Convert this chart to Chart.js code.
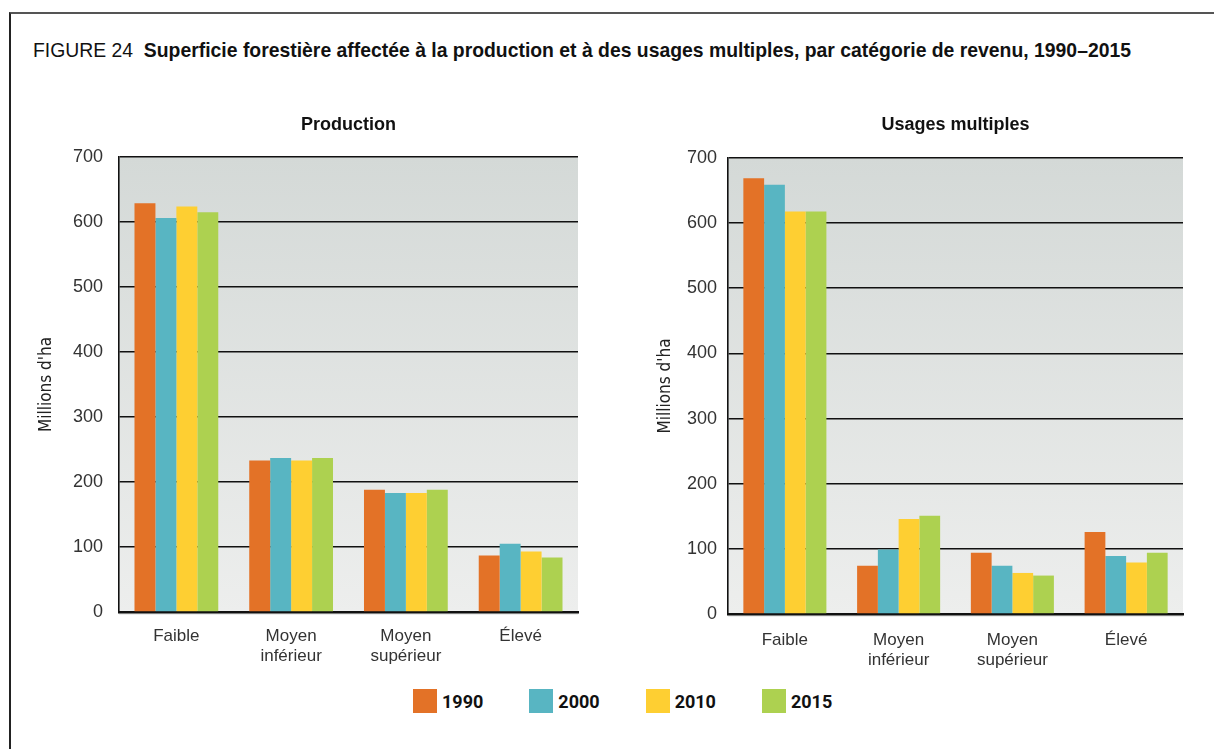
<!DOCTYPE html>
<html>
<head>
<meta charset="utf-8">
<script src="https://cdn.jsdelivr.net/npm/chart.js@4.4.1/dist/chart.umd.min.js"></script>
<style>
  body { margin: 0; background: #fff; width: 1214px; height: 749px; overflow: hidden; position: relative; }
  #frame { position: absolute; left: 9px; top: 12px; width: 1300px; height: 800px; border-left: 2px solid #222; border-top: 2px solid #555; }
  #title { position: absolute; left: 33px; top: 38px; font-family: 'Liberation Sans', Arial, sans-serif; font-size: 21px; color: #111; white-space: nowrap; transform-origin: 0 0; }
  #title b { font-weight: bold; }
  canvas { position: absolute; }
  #prodChart { left: 20px; top: 100px; }
  #multiChart { left: 640px; top: 100px; }
  #legend { position: absolute; left: 413px; top: 689px; display: flex; gap: 46px; font-family: Roboto, 'Liberation Sans', sans-serif; font-weight: bold; font-size: 18px; color: #111; }
  #legend .item { display: flex; align-items: center; }
  #legend .box { width: 24px; height: 24px; margin-right: 5px; }
</style>
</head>
<body>
<div id="frame"></div>
<div id="title">FIGURE 24&nbsp; <b>Superficie forestière affectée à la production et à des usages multiples, par catégorie de revenu, 1990–2015</b></div>
<canvas id="prodChart" width="570" height="580"></canvas>
<canvas id="multiChart" width="555" height="580"></canvas>
<div id="legend"></div>
<script>
// categories and series
const categories = ['Faible', ['Moyen', 'inférieur'], ['Moyen', 'supérieur'], 'Élevé'];
const years = ['1990', '2000', '2010', '2015'];
const colors = ['#E37227', '#58B5C2', '#FECF32', '#ADD150'];

// Production (millions ha)
const prod1990 = [629, 233, 188, 87];
const prod2000 = [606, 237, 183, 105];
const prod2010 = [624, 233, 183, 93];
const prod2015 = [615, 237, 188, 84];

// Usages multiples (millions ha)
const multi1990 = [669, 74, 94, 126];
const multi2000 = [659, 99, 74, 89];
const multi2010 = [618, 146, 63, 79];
const multi2015 = [618, 151, 59, 94];

const yMin = 0, yMax = 700, yStep = 100;

const sans = "'Liberation Sans', Arial, sans-serif";
const cond = "'DejaVu Sans Condensed', 'Liberation Sans', sans-serif";

// squeeze the figure title to the width it has in the original
const titleEl = document.getElementById('title');
titleEl.style.transform = 'scaleX(' + (1098 / titleEl.getBoundingClientRect().width) + ')';

// gradient behind the plot area
const plotBackground = {
    id: 'plotBackground',
    beforeDraw(chart) {
        const { ctx, chartArea: a } = chart;
        const g = ctx.createLinearGradient(0, a.top, 0, a.bottom);
        g.addColorStop(0, '#D4D9D7');
        g.addColorStop(1, '#EDEEED');
        ctx.save();
        ctx.fillStyle = g;
        ctx.fillRect(a.left, a.top, a.right - a.left, a.bottom - a.top + 3);
        ctx.restore();
    }
};

function makeChart(id, title, series, opts) {
    const ctx = document.getElementById(id).getContext('2d');
    return new Chart(ctx, {
        type: 'bar',
        data: {
            labels: categories,
            datasets: series.map((s, i) => ({
                label: years[i],
                data: s,
                backgroundColor: colors[i],
                categoryPercentage: 0.73,
                barPercentage: 1.0
            }))
        },
        options: {
            responsive: false,
            animation: false,
            devicePixelRatio: 1,
            layout: { padding: { left: 0, right: 12, top: 0, bottom: 0 } },
            plugins: {
                legend: { display: false },
                tooltip: { enabled: false },
                title: {
                    display: true,
                    fullSize: false,
                    text: title,
                    color: '#111',
                    font: { family: sans, size: 18, weight: 'bold' },
                    padding: { top: 14, bottom: opts.titleBottom }
                }
            },
            scales: {
                x: {
                    grid: { display: false, drawTicks: false },
                    border: { display: true, color: '#111', width: 2.5 },
                    ticks: {
                        color: '#333',
                        padding: opts.xPad,
                        font: { family: sans, size: 17, lineHeight: 20 / 17 }
                    },
                    afterFit: (scale) => { scale.height = opts.xHeight; }
                },
                y: {
                    min: yMin,
                    max: yMax,
                    grid: { color: '#111', lineWidth: 1.6, drawTicks: false },
                    border: { display: true, color: '#111', width: 1.6 },
                    ticks: {
                        stepSize: yStep,
                        color: '#333',
                        padding: opts.yPad,
                        font: { family: sans, size: 18 }
                    },
                    title: {
                        display: true,
                        text: "Millions d'ha",
                        color: '#222',
                        font: { family: cond, size: 17 },
                        padding: { top: opts.yTitleOffset, bottom: 0 }
                    },
                    afterFit: (scale) => { scale.width = opts.yWidth; }
                }
            }
        },
        plugins: [plotBackground]
    });
}

makeChart('prodChart', 'Production', [prod1990, prod2000, prod2010, prod2015],
    { titleBottom: 21.4, xHeight: 68, xPad: 14, yPad: 16, yWidth: 99, yTitleOffset: 16 });
makeChart('multiChart', 'Usages multiples', [multi1990, multi2000, multi2010, multi2015],
    { titleBottom: 22.4, xHeight: 66, xPad: 16, yPad: 11, yWidth: 88, yTitleOffset: 15 });

// shared legend built from the series names
const legend = document.getElementById('legend');
years.forEach((y, i) => {
    const item = document.createElement('div');
    item.className = 'item';
    item.innerHTML = '<span class="box" style="background:' + colors[i] + '"></span><span>' + y + '</span>';
    legend.appendChild(item);
});
</script>
</body>
</html>
